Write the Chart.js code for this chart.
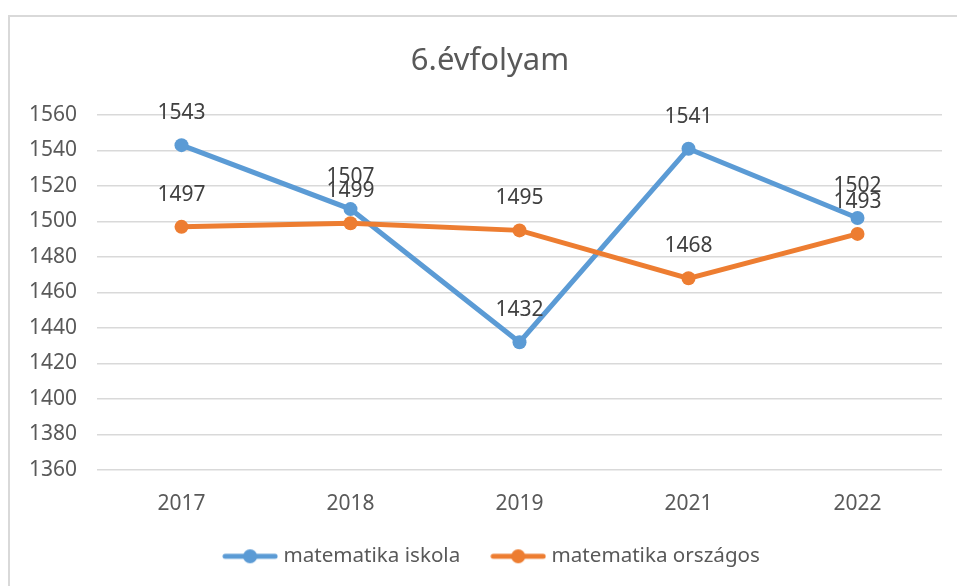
<!DOCTYPE html>
<html>
<head>
<meta charset="utf-8">
<script src="https://cdn.jsdelivr.net/npm/chart.js@4.4.0/dist/chart.umd.min.js"></script>
<style>
  html, body { margin: 0; padding: 0; background: #fff; }
  #wrap { position: relative; width: 957px; height: 586px; }
  #frame { position: absolute; left: 8px; top: 15px; right: -4px; bottom: -4px;
           border-left: 2px solid #D9D9D9; border-top: 2px solid #D9D9D9; }
  canvas { position: absolute; left: 0; top: 0; }
</style>
</head>
<body>
<div id="wrap">
  <div id="frame"></div>
  <canvas id="c" width="957" height="586"></canvas>
</div>
<script>
const title = "6.évfolyam";
const categories = ["2017", "2018", "2019", "2021", "2022"];
const seriesNames = ["matematika iskola", "matematika országos"];
const iskola = [1543, 1507, 1432, 1541, 1502];
const orszagos = [1497, 1499, 1495, 1468, 1493];
const yMin = 1360, yMax = 1560, yStep = 20;

const BLUE = "#5B9BD5", ORANGE = "#ED7D31";
const FONT = "'Noto Sans', 'Open Sans', sans-serif";

function legendIcon(color) {
  const cv = document.createElement("canvas");
  cv.width = 56; cv.height = 16;
  const g = cv.getContext("2d");
  g.strokeStyle = color; g.lineWidth = 5; g.lineCap = "round";
  g.beginPath(); g.moveTo(3, 8); g.lineTo(53, 8); g.stroke();
  g.fillStyle = color;
  g.beginPath(); g.arc(28, 8, 7, 0, Math.PI * 2); g.fill();
  return cv;
}
const icons = [legendIcon(BLUE), legendIcon(ORANGE)];

const dataLabels = {
  id: "dataLabels",
  afterDatasetsDraw(chart) {
    const ctx = chart.ctx;
    ctx.save();
    ctx.font = "21px " + FONT;
    ctx.fillStyle = "#404040";
    ctx.textAlign = "center";
    ctx.textBaseline = "middle";
    chart.data.datasets.forEach((ds, i) => {
      const meta = chart.getDatasetMeta(i);
      meta.data.forEach((pt, j) => {
        ctx.fillText(String(ds.data[j]), pt.x, pt.y - 32);
      });
    });
    ctx.restore();
  }
};

// shift title and legend to match the reference placement
const shiftBoxes = {
  id: "shiftBoxes",
  beforeDraw(chart) {
    const t = chart.titleBlock;
    if (t) { t.left += 19; t.right += 19; }
    const l = chart.legend;
    if (l) { l.left += 22.5; l.right += 22.5; l.top -= 4; l.bottom -= 4; }
  }
};

new Chart(document.getElementById("c"), {
  type: "line",
  data: {
    labels: categories,
    datasets: [
      { label: seriesNames[0], data: iskola, borderColor: BLUE, backgroundColor: BLUE,
        borderWidth: 5, pointRadius: 7, pointHoverRadius: 7, pointBackgroundColor: BLUE,
        pointBorderWidth: 0, tension: 0, order: 1 },
      { label: seriesNames[1], data: orszagos, borderColor: ORANGE, backgroundColor: ORANGE,
        borderWidth: 5, pointRadius: 7, pointHoverRadius: 7, pointBackgroundColor: ORANGE,
        pointBorderWidth: 0, tension: 0, order: 0 }
    ]
  },
  options: {
    responsive: false,
    animation: false,
    layout: { padding: { left: 0, right: 15, top: 0, bottom: 5.4 } },
    plugins: {
      tooltip: { enabled: false },
      title: {
        display: true, text: title, color: "#595959",
        font: { family: FONT, size: 31, weight: "normal", lineHeight: 1.2 },
        padding: { top: 43, bottom: 34.8 }
      },
      legend: {
        position: "bottom",
        labels: {
          usePointStyle: true, pointStyleWidth: 46, boxHeight: 16,
          padding: 35, color: "#595959",
          font: { family: FONT, size: 20.6, lineHeight: 1.2 },
          generateLabels(chart) {
            return chart.data.datasets.map((ds, i) => ({
              text: ds.label, datasetIndex: i, pointStyle: icons[i],
              fillStyle: ds.borderColor, strokeStyle: ds.borderColor,
              lineWidth: 0, hidden: !chart.isDatasetVisible(i), fontColor: "#595959"
            }));
          }
        }
      }
    },
    scales: {
      x: {
        offset: true,
        grid: { display: false, drawTicks: false },
        border: { display: false },
        ticks: { color: "#595959", padding: 21.5, font: { family: FONT, size: 21, lineHeight: 1.2 } },
        afterFit(s) { s.height = 45; }
      },
      y: {
        min: yMin, max: yMax,
        grid: { color: "#D9D9D9", lineWidth: 1.5, drawTicks: false },
        border: { display: false },
        ticks: { stepSize: yStep, color: "#595959", padding: 20,
                 font: { family: FONT, size: 21, lineHeight: 1.2 },
                 callback: (v) => String(v) },
        afterFit(s) { s.width = 97; }
      }
    }
  },
  plugins: [dataLabels, shiftBoxes]
});
</script>
</body>
</html>
